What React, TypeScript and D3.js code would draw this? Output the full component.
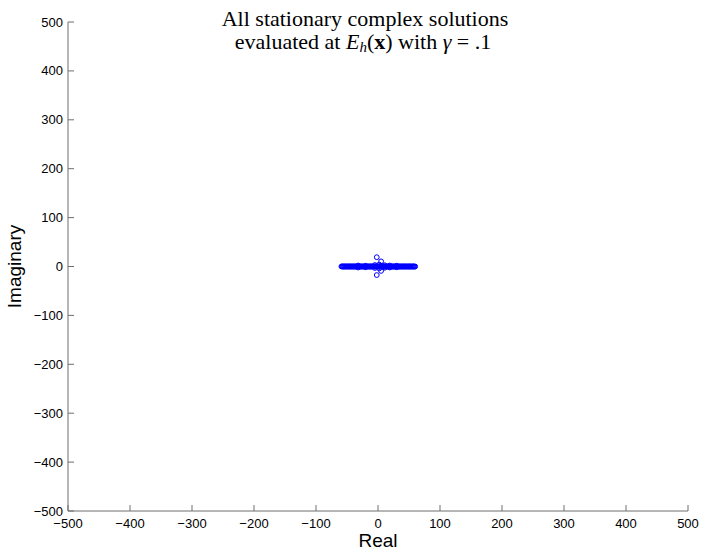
import React from "react";
import * as d3 from "d3";

const W = 706;
const H = 556;

const xTicks = [-500, -400, -300, -200, -100, 0, 100, 200, 300, 400, 500];
const yTicks = [-500, -400, -300, -200, -100, 0, 100, 200, 300, 400, 500];

// solutions on (or very near) the real axis
const realParts = [
  -59, -58, -57, -56, -55, -54, -53, -52, -51, -50, -49, -48, -47, -46, -45, -44,
  -43, -42, -41, -40, -39, -38, -37, -36, -35, -34, -33, -32, -31, -30, -29, -28,
  -27, -26, -25, -24, -23, -22, -21, -20, -19, -18, -17, -16, -15, -14, -13, -12,
  -11, -10, -9, -8, -7, -6, -5, -4, -3, -2, -1, 0, 1, 2, 3, 4, 5, 6, 7, 8, 9, 10,
  11, 12, 13, 14, 15, 16, 17, 18, 19, 20, 21, 22, 23, 24, 25, 26, 27, 28, 29, 30,
  31, 32, 33, 34, 35, 36, 37, 38, 39, 40, 41, 42, 43, 44, 45, 46, 47, 48, 49, 50,
  51, 52, 53, 54, 55, 56, 57, 58, 59, 60,
];
const realImag = [
  0, 0.3, 0, -0.3, 0, 0.3, 0, -0.3, 0, 0.3, 0, -0.3, 0, 0.3, 0, -0.3,
  0, 0.3, 0, -0.3, 0, 0.3, 0, -0.3, 0, 0.3, 0, -0.3, 0, 0.3, 0, -0.3,
  0, 0.3, 0, -0.3, 0, 0.3, 0, -0.3, 0, 0.3, 0, -0.3, 0, 0.3, 0, -0.3,
  0, 0.3, 0, -0.3, 0, 0.3, 0, -0.3, 0, 0.3, 0, 0, 0.3, 0, -0.3, 0, 0.3, 0, -0.3, 0, 0.3, 0,
  -0.3, 0, 0.3, 0, -0.3, 0, 0.3, 0, -0.3, 0, 0.3, 0, -0.3, 0, 0.3, 0, -0.3, 0, 0.3, 0,
  -0.3, 0, 0.3, 0, -0.3, 0, 0.3, 0, -0.3, 0, 0.3, 0, -0.3, 0, 0.3, 0, -0.3, 0, 0.3, 0,
  -0.3, 0, 0.3, 0, -0.3, 0, 0.3, 0, -0.3, 0,
];
// solutions with a visible imaginary part
const outReal = [-2, -2, 5, 5, -32, -32, -5, -5, 11, 11, 19, 19, 30, 30, -20, -20, 2, 2];
const outImag = [19, -17.5, 10.5, -9, 2, -2, 3, -3, 2.5, -2.5, 2, -2, 1.5, -1.5, 1.5, -1.5, 4, -4];

const margin = { left: 68, right: 18, top: 22, bottom: 45 };

export default function App() {
  const x = d3.scaleLinear().domain([-500, 500]).range([margin.left, W - margin.right]);
  const y = d3.scaleLinear().domain([-500, 500]).range([H - margin.bottom, margin.top]);
  const axisColor = "#6e6e6e";
  const tickFont = "'Liberation Sans', Arial, Helvetica, sans-serif";
  const fmt = (v: number) => (v < 0 ? "\u2212" + Math.abs(v) : String(v));
  const pts = realParts
    .map((r, i) => [r, realImag[i]] as [number, number])
    .concat(outReal.map((r, i) => [r, outImag[i]] as [number, number]));
  const x0 = x(-500);
  const y0 = y(-500);
  return (
    <svg width={W} height={H} style={{ position: "absolute", left: 0, top: 0, background: "#fff" }}>
      <rect x={0} y={0} width={W} height={H} fill="#fff" />
      {/* axes */}
      <line x1={x0} x2={x(500)} y1={y0} y2={y0} stroke={axisColor} strokeWidth={1} />
      <line x1={x0} x2={x0} y1={y(500)} y2={y0} stroke={axisColor} strokeWidth={1} />
      {xTicks.map((t) => (
        <g key={"x" + t}>
          <line x1={x(t)} x2={x(t)} y1={y0} y2={y0 - 6} stroke={axisColor} />
          <text x={x(t)} y={y0 + 17} textAnchor="middle" fontFamily={tickFont} fontSize={13} fill="#000">
            {fmt(t)}
          </text>
        </g>
      ))}
      {yTicks.map((t) => (
        <g key={"y" + t}>
          <line x1={x0} x2={x0 + 6} y1={y(t)} y2={y(t)} stroke={axisColor} />
          <text x={x0 - 5} y={y(t) + 4.5} textAnchor="end" fontFamily={tickFont} fontSize={13} fill="#000">
            {fmt(t)}
          </text>
        </g>
      ))}
      {/* points */}
      {pts.map(([r, im], i) => (
        <circle key={i} cx={x(r)} cy={y(im)} r={2.4} fill="none" stroke="#0000ff" strokeWidth={1} />
      ))}
      {/* labels */}
      <text x={x(0)} y={547} textAnchor="middle" fontFamily={tickFont} fontSize={19} fill="#000">
        Real
      </text>
      <text
        transform={`translate(${21},${y(0)}) rotate(-90)`}
        textAnchor="middle"
        fontFamily={tickFont}
        fontSize={19}
        fill="#000"
      >
        Imaginary
      </text>
      {/* title */}
      <text x={365} y={26} textAnchor="middle" fontFamily="'Liberation Serif', serif" fontSize={22} fill="#000">
        All stationary complex solutions
      </text>
      <text x={363} y={49} textAnchor="middle" fontFamily="'Liberation Serif', serif" fontSize={22} fill="#000">
        evaluated at <tspan fontStyle="italic">E</tspan>
        <tspan fontStyle="italic" fontSize={15} dy={3}>h</tspan>
        <tspan dy={-3}>(</tspan>
        <tspan fontWeight="bold">x</tspan>) with <tspan fontStyle="italic">γ</tspan> = .1
      </text>
    </svg>
  );
}
